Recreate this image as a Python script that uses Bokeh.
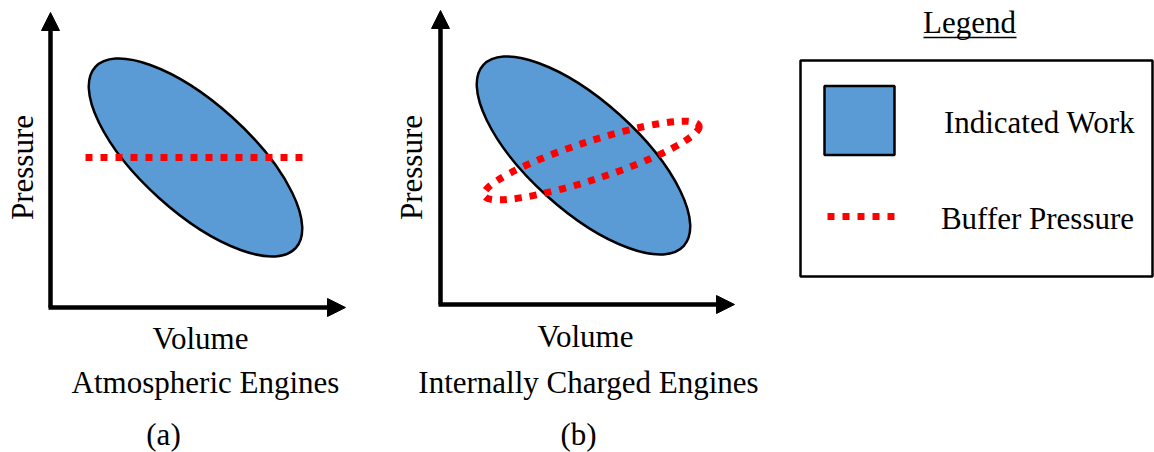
from math import radians
from bokeh.plotting import figure
from bokeh.models import Range1d, Arrow, NormalHead
from bokeh.core.properties import value
from bokeh.embed import file_html
from bokeh.resources import INLINE

W, H = 1154, 452

# Panel content
panel_titles = ["Atmospheric Engines", "Internally Charged Engines"]
panel_tags = ["(a)", "(b)"]
axis_x_label = "Volume"
axis_y_label = "Pressure"
legend_labels = ["Indicated Work", "Buffer Pressure"]

# Indicated-work loops (P-V ellipses): centre, major/minor length, tilt in degrees
work_cx = [195, 583]
work_cy = [157, 155]
work_major = [270, 270]
work_minor = [109, 109]
work_tilt = [-42, -42]

# Buffer pressure: flat line for (a), tilted loop for (b)
buffer_line_x = [85, 307]
buffer_line_y = [157, 157]
buffer_loop_cx, buffer_loop_cy = 591, 160
buffer_loop_major, buffer_loop_minor, buffer_loop_tilt = 226, 38, 18

# Axis origins and arrow tips for each panel
origin_x = [50, 440]
origin_y = [307, 304]
tip_x = [345, 734]
tip_y = [12, 10]

BLUE = "#5B9BD5"
RED = "#FF0000"
FONT = value("'Liberation Serif', 'Times New Roman', serif")


def Y(v):
    # drawing is laid out top-down; bokeh's y runs upward
    return H - v


p = figure(width=W, height=H, output_backend="svg", toolbar_location=None,
           x_range=Range1d(0, W), y_range=Range1d(0, H), min_border=0)
p.axis.visible = False
p.grid.visible = False
p.outline_line_color = None
p.background_fill_color = "white"

# Work loops
p.ellipse(x=work_cx, y=[Y(v) for v in work_cy], width=work_major, height=work_minor,
          angle=[radians(a) for a in work_tilt], fill_color=BLUE,
          line_color="black", line_width=2.5)

# Buffer pressure (a)
p.line(x=buffer_line_x, y=[Y(v) for v in buffer_line_y], line_color=RED,
       line_width=7, line_dash="7 8")
# Buffer pressure (b)
p.ellipse(x=[buffer_loop_cx], y=[Y(buffer_loop_cy)], width=[buffer_loop_major],
          height=[buffer_loop_minor], angle=[radians(buffer_loop_tilt)],
          fill_color=None, line_color=RED, line_width=7, line_dash="7 8")

# Axes with arrow heads
for ox, oy, tx, ty in zip(origin_x, origin_y, tip_x, tip_y):
    p.add_layout(Arrow(x_start=ox, y_start=Y(oy), x_end=ox, y_end=Y(ty),
                       line_width=4.5, line_color="black",
                       end=NormalHead(size=18, fill_color="black", line_color="black")))
    p.add_layout(Arrow(x_start=ox - 2, y_start=Y(oy), x_end=tx, y_end=Y(oy),
                       line_width=4.5, line_color="black",
                       end=NormalHead(size=18, fill_color="black", line_color="black")))

# Panel labels
ylab_x = [22, 411]
ylab_y = [167, 167]
xlab_x = [200, 585]
xlab_y = [338, 336]
title_x = [205, 588]
title_y = [382, 382]
tag_x = [163, 578]
tag_y = [434, 434]

txt = dict(text_font=FONT, text_font_size="31px", text_color="black",
           text_align="center", text_baseline="middle")
p.text(x=ylab_x, y=[Y(v) for v in ylab_y], text=[axis_y_label] * 2,
       angle=radians(90), **txt)
p.text(x=xlab_x, y=[Y(v) for v in xlab_y], text=[axis_x_label] * 2, **txt)
p.text(x=title_x, y=[Y(v) for v in title_y], text=panel_titles, **txt)
p.text(x=tag_x, y=[Y(v) for v in tag_y], text=panel_tags, **txt)

# Legend heading with underline
p.text(x=[969], y=[Y(22)], text=["Legend"], **txt)
p.line(x=[923, 1016], y=[Y(37), Y(37)], line_color="black", line_width=1.5)

# Legend box
p.quad(left=[800], right=[1152], top=[Y(60)], bottom=[Y(276)],
       fill_color=None, line_color="black", line_width=2.5)
p.rect(x=[859], y=[Y(120)], width=70, height=69, fill_color=BLUE,
       line_color="black", line_width=2.5)
p.line(x=[827, 897], y=[Y(216), Y(216)], line_color=RED, line_width=7,
       line_dash="7 8")
p.text(x=[1039, 1037], y=[Y(122), Y(218)], text=legend_labels, **txt)

open("out.html", "w").write(file_html(p, INLINE))
